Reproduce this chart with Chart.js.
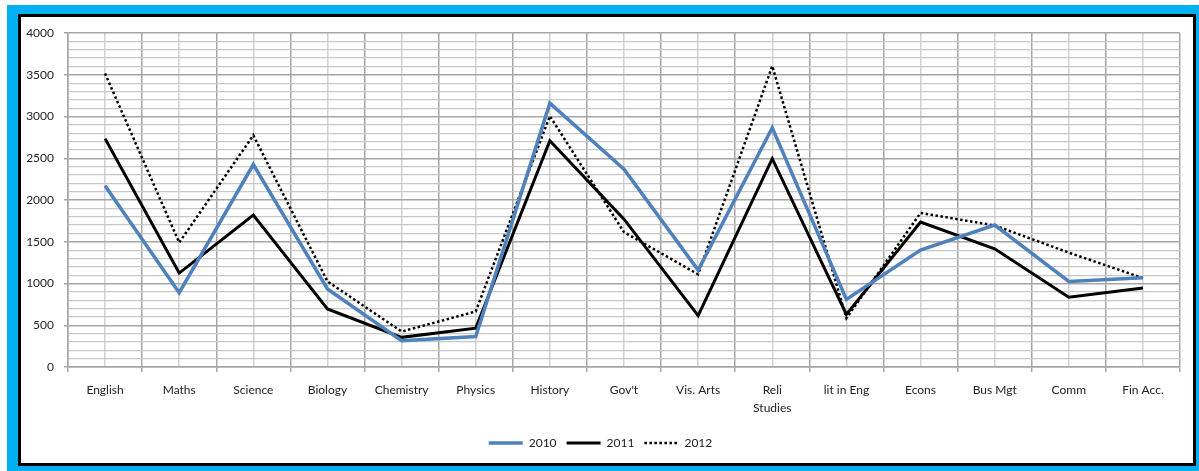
<!DOCTYPE html>
<html lang="en">
<head>
    <meta charset="UTF-8">
    <title>Subject entries 2010 - 2012</title>
    <style>
        body {
            margin: 0;
            background: #fff;
            font-family: Lato, Arial, sans-serif;
        }
        .frame {
            position: absolute;
            left: 7px;
            top: 5px;
            width: 1192px;
            height: 466px;
            background: #00b0f0;
        }
        .inner {
            position: absolute;
            left: 11px;
            top: 9px;
            width: 1178px;
            height: 452px;
            box-sizing: border-box;
            border: 3px solid #000;
            background: #fff;
        }
        .chart-box {
            position: absolute;
            left: 0;
            top: 0;
            width: 1199px;
            height: 471px;
        }
    </style>
</head>
<body>

<div class="frame"><div class="inner"></div></div>
<div class="chart-box">
    <canvas id="myChart"></canvas>
</div>

<script src="https://cdn.jsdelivr.net/npm/chart.js"></script>
<script>
    // subjects along the bottom
    const subjects = ['English', 'Maths', 'Science', 'Biology', 'Chemistry', 'Physics', 'History', "Gov't",
        'Vis. Arts', ['Reli', 'Studies'], 'lit in Eng', 'Econs', 'Bus Mgt', 'Comm', 'Fin Acc.'];

    // values
    const y2010 = [2170, 890, 2425, 935, 315, 365, 3160, 2370, 1160, 2865, 810, 1400, 1700, 1025, 1070];
    const y2011 = [2735, 1125, 1820, 695, 355, 465, 2710, 1770, 615, 2495, 630, 1735, 1415, 835, 945];
    const y2012 = [3515, 1490, 2775, 1025, 425, 665, 3005, 1615, 1110, 3605, 585, 1845, 1695, 1370, 1065];

    const yMax = 4000;
    const yStep = 100;
    const yLabelEvery = 500;

    const textColor = '#222';
    const majorGrid = '#a6a6a6';
    const minorGrid = '#c8c8c8';
    const fontSpec = { family: 'Lato, Arial, sans-serif', size: 12 };

    const data = {
        labels: subjects,
        datasets: [{
            label: '2010',
            data: y2010,
            borderColor: '#4f81bd',
            backgroundColor: '#4f81bd',
            borderWidth: 3.5
        }, {
            label: '2011',
            data: y2011,
            borderColor: '#000',
            backgroundColor: '#000',
            borderWidth: 3
        }, {
            label: '2012',
            data: y2012,
            borderColor: '#000',
            backgroundColor: '#000',
            borderWidth: 2.5,
            borderDash: [2.5, 2.5]
        }]
    };

    // legend samples as short lines, keeping the dotted style of 2012
    function legendLabels(chart) {
        const items = Chart.defaults.plugins.legend.labels.generateLabels(chart);
        items.forEach(function(item) {
            const ds = chart.data.datasets[item.datasetIndex];
            item.lineDash = ds.borderDash || [];
            item.lineWidth = ds.borderWidth;
            item.strokeStyle = ds.borderColor;
        });
        return items;
    }

    const config = {
        type: 'line',
        data: data,
        options: {
            responsive: false,
            animation: false,
            elements: {
                point: { radius: 0, hoverRadius: 0 },
                line: { tension: 0, borderCapStyle: 'butt', borderJoinStyle: 'miter' }
            },
            layout: {
                padding: { left: 21, right: 19, top: 33, bottom: 12 }
            },
            plugins: {
                tooltip: { enabled: false },
                legend: {
                    position: 'bottom',
                    labels: {
                        usePointStyle: true,
                        pointStyle: 'line',
                        pointStyleWidth: 34,
                        boxHeight: 12,
                        color: textColor,
                        font: fontSpec,
                        padding: 10,
                        generateLabels: legendLabels
                    }
                }
            },
            scales: {
                x: {
                    type: 'category',
                    offset: true,
                    grid: {
                        offset: true,
                        color: majorGrid,
                        lineWidth: 1.5,
                        tickColor: majorGrid,
                        tickLength: 5
                    },
                    border: { color: majorGrid, width: 1.5 },
                    ticks: {
                        color: textColor,
                        font: { family: fontSpec.family, size: 12, lineHeight: 1.5 },
                        padding: 9,
                        maxRotation: 0,
                        autoSkip: false
                    },
                    afterFit: function(scale) {
                        scale.height = 60;
                    }
                },
                x2: {
                    type: 'category',
                    position: 'bottom',
                    offset: true,
                    grid: {
                        offset: false,
                        color: '#d2d2d2',
                        lineWidth: 1.5,
                        drawTicks: false
                    },
                    border: { display: false },
                    ticks: { display: false },
                    afterFit: function(scale) {
                        scale.height = 0;
                    }
                },
                y: {
                    min: 0,
                    max: yMax,
                    grid: {
                        color: function(ctx) {
                            return ctx.tick && ctx.tick.value % yLabelEvery === 0 ? majorGrid : minorGrid;
                        },
                        lineWidth: function(ctx) {
                            return ctx.tick && ctx.tick.value % yLabelEvery === 0 ? 1.5 : 1.2;
                        },
                        tickColor: function(ctx) {
                            return ctx.tick && ctx.tick.value % yLabelEvery === 0 ? majorGrid : 'rgba(0,0,0,0)';
                        },
                        tickLength: 4
                    },
                    border: { color: majorGrid, width: 1.5 },
                    ticks: {
                        stepSize: yStep,
                        autoSkip: false,
                        color: textColor,
                        font: fontSpec,
                        padding: 10,
                        callback: function(value) {
                            return value % yLabelEvery === 0 ? String(value) : '';
                        }
                    },
                    afterFit: function(scale) {
                        scale.width = 47;
                    }
                }
            }
        }
    };

    const canvas = document.getElementById('myChart');
    canvas.width = 1199;
    canvas.height = 471;
    const myChart = new Chart(canvas, config);
</script>

</body>
</html>
